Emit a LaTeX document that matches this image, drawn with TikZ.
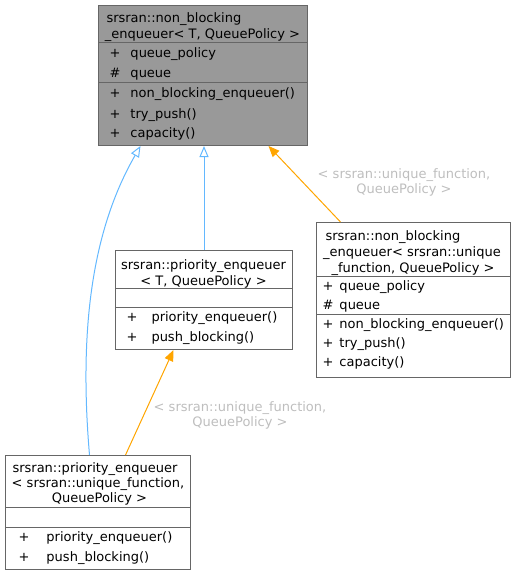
\documentclass[tikz,border=0pt]{standalone}
\usepackage{fontspec}
\setmainfont{DejaVu Sans}
\usepackage{xcolor}
\usepackage{tikz}
\usetikzlibrary{arrows.meta}

\definecolor{boxline}{HTML}{666666}
\definecolor{boxgray}{HTML}{999999}
\definecolor{inhblue}{HTML}{63B8FF}
\definecolor{tplorange}{HTML}{FFA500}
\definecolor{lblgray}{HTML}{BEBEBE}

% member line: width of the +/# column, visibility mark, name
\newcommand{\mbr}[3]{\makebox[#1][l]{#2}#3}

\begin{document}
\begin{tikzpicture}[x=1pt, y=-1pt, line width=1pt,
    classbox/.style={draw=boxline, fill=white, rectangle, inner sep=0pt, anchor=north west},
    sepline/.style={draw=boxline},
    txt/.style={inner sep=0pt, font=\fontsize{13}{15}\selectfont},
    lbl/.style={txt, text=lblgray, align=center},
    inherit/.style={draw=inhblue, -{Triangle[open, length=11pt, width=9pt]}},
    tmplarrow/.style={draw=tplorange, -{Triangle[length=11pt, width=9pt]}}]

        \useasboundingbox (0,0) rectangle (515,575);

        % Define the four class boxes
        \node[classbox, fill=boxgray, minimum width=209pt, minimum height=140pt] (nbq) at (98,5) {};
        \node[classbox, minimum width=177pt, minimum height=99pt] (prio) at (115,250) {};
        \node[classbox, minimum width=194pt, minimum height=155pt] (nbqU) at (316,222) {};
        \node[classbox, minimum width=185pt, minimum height=114pt] (prioU) at (5,455) {};

        % Compartment separators
        \draw[sepline] (nbq.west |- 0,43) -- (nbq.east |- 0,43);
        \draw[sepline] (nbq.west |- 0,83) -- (nbq.east |- 0,83);
        \draw[sepline] (prio.west |- 0,288) -- (prio.east |- 0,288);
        \draw[sepline] (prio.west |- 0,307) -- (prio.east |- 0,307);
        \draw[sepline] (nbqU.west |- 0,276) -- (nbqU.east |- 0,276);
        \draw[sepline] (nbqU.west |- 0,314) -- (nbqU.east |- 0,314);
        \draw[sepline] (prioU.west |- 0,507) -- (prioU.east |- 0,507);
        \draw[sepline] (prioU.west |- 0,527) -- (prioU.east |- 0,527);

        % srsran::non_blocking_enqueuer< T, QueuePolicy >
        \node[txt, anchor=base west] (nbqT1) at (106,23) {srsran::non\_blocking};
        \node[txt, anchor=base] (nbqT2) at (202.5,39) {\_enqueuer< T, QueuePolicy >};
        \node[txt, anchor=base west] (nbqA1) at (109,58) {\mbr{21pt}{+}{queue\_policy}};
        \node[txt, anchor=base west] (nbqA2) at (109,78) {\mbr{21pt}{\#}{queue}};
        \node[txt, anchor=base west] (nbqM1) at (109,98) {\mbr{21pt}{+}{non\_blocking\_enqueuer()}};
        \node[txt, anchor=base west] (nbqM2) at (109,118) {\mbr{21pt}{+}{try\_push()}};
        \node[txt, anchor=base west] (nbqM3) at (109,137) {\mbr{21pt}{+}{capacity()}};

        % srsran::priority_enqueuer< T, QueuePolicy >
        \node[txt, anchor=base] (prioT1) at (203.5,269) {srsran::priority\_enqueuer};
        \node[txt, anchor=base] (prioT2) at (203.5,285) {< T, QueuePolicy >};
        \node[txt, anchor=base west] (prioM1) at (126,321.5) {\mbr{25pt}{+}{priority\_enqueuer()}};
        \node[txt, anchor=base west] (prioM2) at (126,341.5) {\mbr{25pt}{+}{push\_blocking()}};

        % srsran::non_blocking_enqueuer< srsran::unique_function, QueuePolicy >
        \node[txt, anchor=base west] (nbqUT1) at (325,240) {srsran::non\_blocking};
        \node[txt, anchor=base] (nbqUT2) at (412,256) {\_enqueuer< srsran::unique};
        \node[txt, anchor=base] (nbqUT3) at (413,272) {\_function, QueuePolicy >};
        \node[txt, anchor=base west] (nbqUA1) at (322,290) {\mbr{17pt}{+}{queue\_policy}};
        \node[txt, anchor=base west] (nbqUA2) at (322,309) {\mbr{17pt}{\#}{queue}};
        \node[txt, anchor=base west] (nbqUM1) at (322,328) {\mbr{17pt}{+}{non\_blocking\_enqueuer()}};
        \node[txt, anchor=base west] (nbqUM2) at (322,347) {\mbr{17pt}{+}{try\_push()}};
        \node[txt, anchor=base west] (nbqUM3) at (322,366) {\mbr{17pt}{+}{capacity()}};

        % srsran::priority_enqueuer< srsran::unique_function, QueuePolicy >
        \node[txt, anchor=base] (prioUT1) at (95,472) {srsran::priority\_enqueuer};
        \node[txt, anchor=base] (prioUT2) at (98,487) {< srsran::unique\_function,};
        \node[txt, anchor=base] (prioUT3) at (99.5,502) {QueuePolicy >};
        \node[txt, anchor=base west] (prioUM1) at (18,541.5) {\mbr{28pt}{+}{priority\_enqueuer()}};
        \node[txt, anchor=base west] (prioUM2) at (18,561.5) {\mbr{28pt}{+}{push\_blocking()}};

        % Inheritance arrows
        \draw[inherit] (prio.north) -- (prio.north |- nbq.south);
        \draw[inherit] ([xshift=-8.5pt]prioU.north) .. controls (78,320) and (95,225) .. ([xshift=-62.5pt]nbq.south);

        % Template instance arrows with labels
        \draw[tmplarrow] ([xshift=-73pt]nbqU.north) -- ([xshift=65.5pt]nbq.south);
        \node[lbl] (nbqUL) at (404,182) {< srsran::unique\_function,\\QueuePolicy >};
        \draw[tmplarrow] ([xshift=27.5pt]prioU.north) -- ([xshift=-30.5pt]prio.south);
        \node[lbl] (prioUL) at (240,415) {< srsran::unique\_function,\\QueuePolicy >};
    \end{tikzpicture}
\end{document}
